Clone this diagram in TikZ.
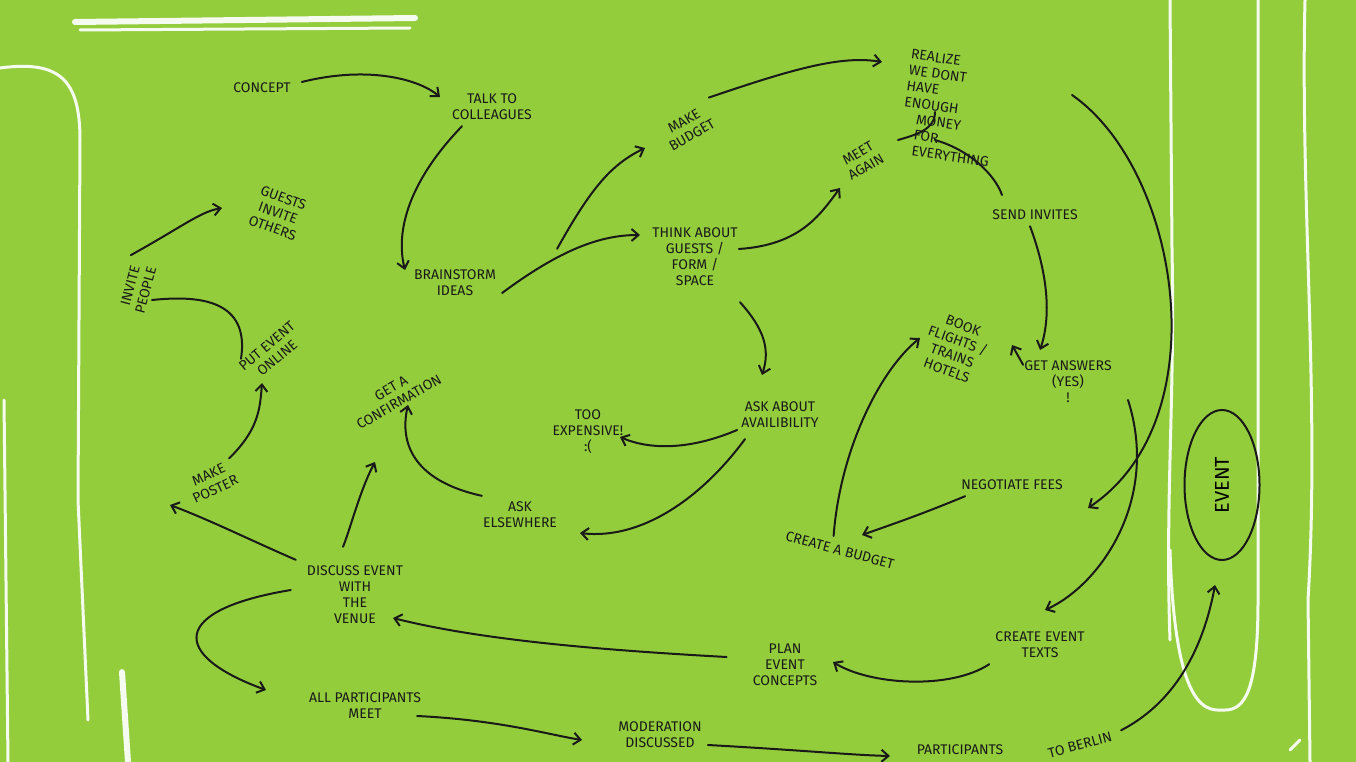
\documentclass[tikz,border=0pt]{standalone}
\usepackage{fontspec}
\setmainfont{Fira Sans}
\usetikzlibrary{arrows.meta,shapes.geometric}
\definecolor{bg}{RGB}{147,205,60}
\begin{document}
\begin{tikzpicture}[x=1pt,y=-1pt,
  t/.style={font=\fontsize{14}{16}\selectfont, align=center, inner sep=1pt, text=black!90},
  ar/.style={line width=2pt, draw=black!90, -{Straight Barb[length=7pt,width=12pt]}, line cap=round},
  ln/.style={line width=2pt, draw=black!90, line cap=round},
  chalk/.style={line width=3pt, draw=white!92!bg, line cap=round}]
\fill[bg] (0,0) rectangle (1356,762);
\useasboundingbox (0,0) rectangle (1356,762);
% chalk
\draw[chalk, line width=6pt] (75,22) -- (415,18);
\draw[chalk] (80,30) -- (410,28);
\draw[chalk] (0,68) .. controls (60,60) and (80,80) .. (80,140) -- (78,500) -- (88,720);
\draw[chalk] (4,400) -- (8,762);
\draw[chalk, line width=6pt] (122,672) -- (128,762);
\draw[chalk] (1170,0) -- (1172,250) .. controls (1175,400) and (1165,500) .. (1170,640);
\draw[chalk] (1170,550) .. controls (1175,720) and (1210,710) .. (1225,710) .. controls (1245,710) and (1258,690) .. (1258,600) -- (1258,0);
\draw[chalk] (1305,0) .. controls (1300,200) and (1320,400) .. (1308,600) -- (1310,762);
\draw[chalk] (1300,740) -- (1290,750);
% nodes
\node[t] (concept) at (262,88) {CONCEPT};
\node[t] (talk) at (492,107) {TALK TO\\COLLEAGUES};
\node[t] (brain) at (455,283) {BRAINSTORM\\IDEAS};
\node[t,rotate=30] (mbud) at (688,128) {MAKE\\BUDGET};
\node[t] (think) at (695,257) {THINK ABOUT\\GUESTS /\\FORM /\\SPACE};
\node[t,align=left,rotate=-8] (real) at (950,108) {REALIZE\\WE DONT\\HAVE\\ENOUGH\\\quad MONEY\\\quad FOR\\\quad EVERYTHING};
\node[t,rotate=30] (meet) at (862,160) {MEET\\AGAIN};
\node[t] (send) at (1035,215) {SEND INVITES};
\node[t,rotate=-20] (guests) at (278,213) {GUESTS\\INVITE\\OTHERS};
\node[t,rotate=75] (invite) at (138,288) {INVITE\\PEOPLE};
\node[t,rotate=40] (put) at (272,352) {PUT EVENT\\ONLINE};
\node[t,rotate=30] (conf) at (395,395) {GET A\\CONFIRMATION};
\node[t] (tooexp) at (588,432) {TOO\\EXPENSIVE!\\:(};
\node[t] (ask) at (780,415) {ASK ABOUT\\AVAILIBILITY};
\node[t,rotate=-20] (book) at (955,348) {BOOK\\FLIGHTS /\\TRAINS\\HOTELS};
\node[t] (ans) at (1068,382) {GET ANSWERS\\(YES)\\!};
\node[ellipse,draw=black!90,line width=2pt,minimum width=150pt,minimum height=75pt,rotate=90,font=\fontsize{20}{22}\selectfont] (event) at (1222,485) {EVENT};
\node[t,rotate=25] (poster) at (212,482) {MAKE\\POSTER};
\node[t] (else) at (520,515) {ASK\\ELSEWHERE};
\node[t] (neg) at (1012,485) {NEGOTIATE FEES};
\node[t,rotate=-15] (cbud) at (840,550) {CREATE A BUDGET};
\node[t] (disc) at (355,595) {DISCUSS EVENT\\WITH\\THE\\VENUE};
\node[t] (plan) at (785,665) {PLAN\\EVENT\\CONCEPTS};
\node[t] (texts) at (1040,645) {CREATE EVENT\\TEXTS};
\node[t] (allp) at (365,706) {ALL PARTICIPANTS\\MEET};
\node[t] (mod) at (660,735) {MODERATION\\DISCUSSED};
\node[t] (parts) at (960,750) {PARTICIPANTS};
\node[t,rotate=15] (berlin) at (1080,745) {TO BERLIN};
% connectors
\draw[ar] (concept.east) ++(10,-6) .. controls (370,65) and (420,80) .. (440,97);
\draw[ar] (talk.south) ++(-30,5) .. controls (410,180) and (395,230) .. (405,270);
\draw[ar] (brain.east) ++(5,10) .. controls (560,250) and (600,235) .. (640,235);
\draw[ar] (brain.north east) ++(60,-20) .. controls (590,190) and (610,165) .. (645,148);
\draw[ar] (mbud.north east) ++(5,-5) .. controls (790,70) and (840,55) .. (882,62);
\draw[ar] (think.east) ++(0,-8) .. controls (800,245) and (820,215) .. (840,188);
\draw[ln] (935,112) .. controls (935,130) and (915,135) .. (898,140);
\draw[ln] (935,140) .. controls (970,150) and (995,175) .. (1002,195);
\draw[ar] (send.south) ++(-5,5) .. controls (1050,280) and (1050,320) .. (1040,350);
\draw[ar] (ans.north west) ++(0,5) -- (1012,345);
\draw[ar] (think.south) ++(45,15) .. controls (765,330) and (770,350) .. (762,375);
\draw[ar] (ask.west) ++(-3,15) .. controls (690,450) and (650,450) .. (620,437);
\draw[ar] (ask.south) ++(-35,10) .. controls (700,500) and (640,540) .. (580,533);
\draw[ar] (else.north west) ++(0,-5) .. controls (410,480) and (400,440) .. (408,405);
\draw[ar] (disc.north) ++(-12,-18) .. controls (350,530) and (360,490) .. (375,462);
\draw[ar] (disc.north west) ++(-10,-5) .. controls (250,540) and (210,520) .. (170,505);
\draw[ar] (poster.north east) ++(0,0) .. controls (258,430) and (260,410) .. (262,383);
\draw[ln] (put.north west) ++(5,-5) .. controls (250,300) and (200,295) .. (152,300);
\draw[ar] (invite.north east) ++(0,-5) .. controls (185,225) and (200,212) .. (222,208);
\draw[ar] (1072,95) .. controls (1180,170) and (1220,420) .. (1088,508);
\draw[ar] (1128,400) .. controls (1160,500) and (1100,585) .. (1045,610);
\draw[ar] (neg.south west) ++(5,5) .. controls (920,515) and (890,525) .. (862,535);
\draw[ar] (cbud.north) ++(-8,-8) .. controls (840,450) and (880,370) .. (920,338);
\draw[ar] (texts.south west) ++(-5,5) .. controls (950,690) and (870,685) .. (833,662);
\draw[ar] (plan.west) ++(-25,-8) .. controls (600,650) and (480,640) .. (393,618);
\draw[ar] (disc.west) ++(-15,-5) .. controls (170,610) and (170,655) .. (266,690);
\draw[ar] (allp.east) ++(-5,10) .. controls (500,720) and (550,735) .. (582,740);
\draw[ar] (mod.east) ++(5,10) .. controls (800,750) and (850,755) .. (890,756);
\draw[ar] (berlin.north east) ++(10,0) .. controls (1180,700) and (1205,640) .. (1215,585);
\end{tikzpicture}
\end{document}
